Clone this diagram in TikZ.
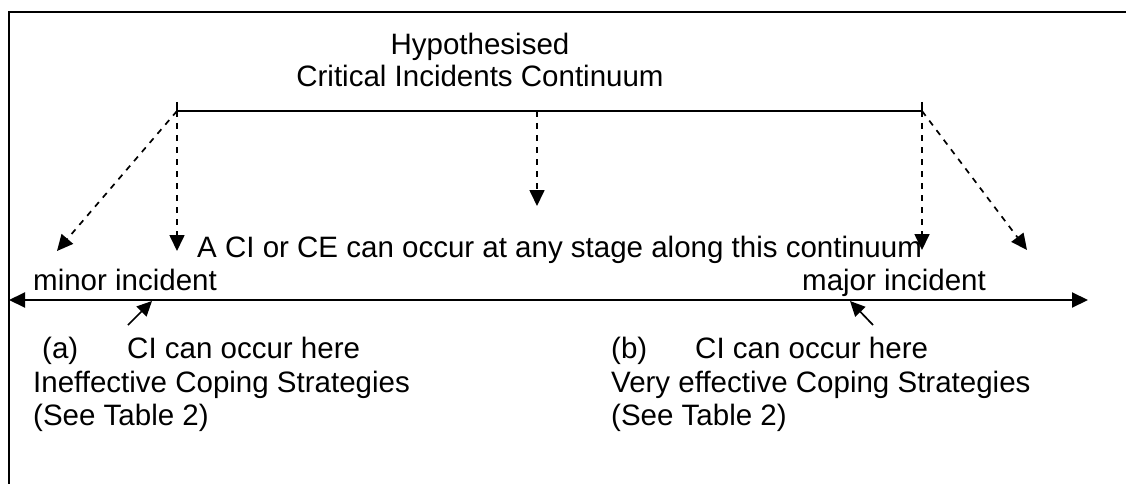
\documentclass[tikz,border=0pt]{standalone}
\usepackage{fontspec}
\setmainfont{Liberation Sans}
\usetikzlibrary{arrows.meta}
\begin{document}
\begin{tikzpicture}[x=1pt,y=-1pt,
  txt/.style={inner sep=0pt,anchor=base west,font=\fontsize{29.5}{33}\selectfont},
  ctxt/.style={inner sep=0pt,anchor=base,font=\fontsize{29.5}{33}\selectfont},
  solidline/.style={line width=2pt},
  dasharrow/.style={line width=1.7pt,dash pattern=on 6pt off 6pt,-{Triangle[length=16pt,width=15pt]}},
  bigarrow/.style={line width=2pt,{Triangle[length=16pt,width=15pt]}-{Triangle[length=16pt,width=15pt]}},
  smallarrow/.style={line width=1.7pt,-{Triangle[length=15pt,width=14pt]}}]
\useasboundingbox (0,0) rectangle (1126,484);
% frame
\draw[line width=2pt] (9,490) -- (9,12) -- (1130,12);
% title
\node[ctxt] (t1) at (480,55) {Hypothesised};
\node[ctxt] (t2) at (480,87) {Critical Incidents Continuum};
% top continuum line
\coordinate (L) at (177,111);
\coordinate (R) at (922,111);
\coordinate (M) at (537,111);
\coordinate (Ltick) at (177,102);
\coordinate (Rtick) at (922,102);
\draw[solidline] (L) -- (R);
\draw[line width=1.7pt] (Ltick) -- (L);
\draw[line width=1.7pt] (Rtick) -- (R);
% dashed arrows targets
\coordinate (Ld) at (177,251);
\coordinate (Ldiag) at (57,251);
\coordinate (Md) at (537,206);
\coordinate (Rd) at (922,250);
\coordinate (Rdiag) at (1027,250);
\draw[dasharrow] (L) -- (Ld);
\draw[dasharrow] (L) -- (Ldiag);
\draw[dasharrow] (M) -- (Md);
\draw[dasharrow] (R) -- (Rd);
\draw[dasharrow] (R) -- (Rdiag);
% middle text
\node[txt] (ci) at (197,257) {A CI or CE can occur at any stage along this continuum};
\node[txt] (minor) at (33,290) {minor incident};
\node[txt] (major) at (802,290) {major incident};
% main line
\coordinate (A) at (9,300);
\coordinate (B) at (1088,300);
\draw[bigarrow] (A) -- (B);
% small arrows
\coordinate (at) at (128,325);
\coordinate (ah) at (152,301);
\coordinate (bt) at (873,325);
\coordinate (bh) at (850,301);
\draw[smallarrow] (at) -- (ah);
\draw[smallarrow] (bt) -- (bh);
% (a) block
\node[txt] (a1) at (42,358) {(a)};
\node[txt] (a2) at (127,358) {CI can occur here};
\node[txt] (a3) at (33,392) {Ineffective Coping Strategies};
\node[txt] (a4) at (33,425) {(See Table 2)};
% (b) block
\node[txt] (b1) at (611,358) {(b)};
\node[txt] (b2) at (695,358) {CI can occur here};
\node[txt] (b3) at (611,392) {Very effective Coping Strategies};
\node[txt] (b4) at (611,425) {(See Table 2)};
\end{tikzpicture}
\end{document}
